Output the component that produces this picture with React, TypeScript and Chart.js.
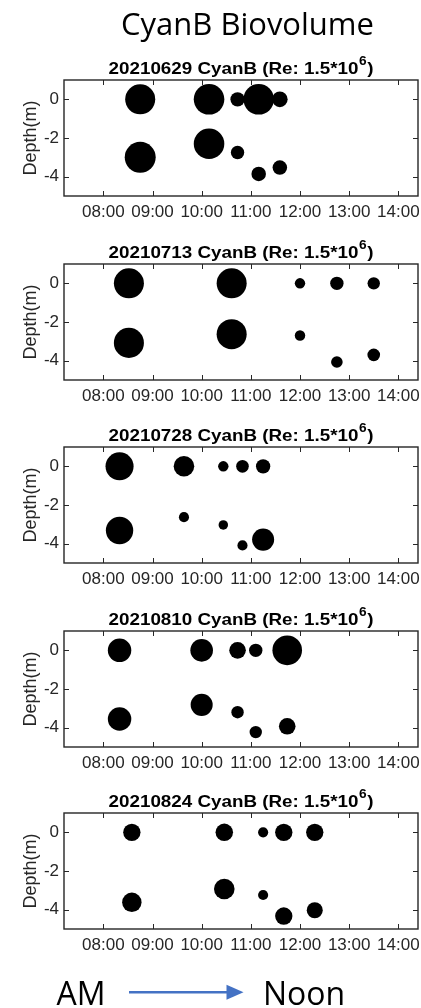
import React, { useEffect, useRef } from 'react';
import { Chart, registerables } from 'chart.js';

Chart.register(...registerables);
Chart.defaults.font.family = '"Liberation Sans", Arial, Helvetica, sans-serif';

// Axis ticks
const hourTicks = [8, 9, 10, 11, 12, 13, 14];
const hourLabels = ['08:00', '09:00', '10:00', '11:00', '12:00', '13:00', '14:00'];
const depthTicks = [-4, -2, 0];
const depthLabels = ['-4', '-2', '0'];

// Sampling time (decimal hours), depth (m) and relative CyanB biovolume per survey day
const time0629 = [8.75, 10.15, 10.73, 11.16, 11.59, 8.75, 10.15, 10.73, 11.16, 11.59];
const depth0629 = [0, 0, 0, 0, 0, -3.0, -2.3, -2.75, -3.86, -3.53];
const bio0629 = [14.1, 14.6, 3.2, 14.6, 3.8, 15.0, 14.6, 2.8, 3.3, 3.3];

const time0713 = [8.52, 10.61, 12.0, 12.75, 13.5, 8.52, 10.61, 12.0, 12.75, 13.5];
const depth0713 = [0, 0, 0, 0, 0, -3.08, -2.63, -2.7, -4.07, -3.7];
const bio0713 = [14.1, 14.1, 1.7, 2.8, 2.4, 14.1, 14.1, 1.7, 2.1, 2.5];

const time0728 = [8.33, 9.64, 10.44, 10.83, 11.25, 8.33, 9.64, 10.44, 10.83, 11.25];
const depth0728 = [0, 0, 0, 0, 0, -3.32, -2.63, -3.03, -4.09, -3.79];
const bio0728 = [12.3, 6.6, 1.7, 2.5, 3.2, 11.7, 1.6, 1.4, 1.6, 7.6];

const time0810 = [8.33, 10.0, 10.73, 11.1, 11.74, 8.33, 10.0, 10.73, 11.1, 11.74];
const depth0810 = [0, 0, 0, 0, 0, -3.55, -2.82, -3.2, -4.23, -3.93];
const bio0810 = [8.6, 8.0, 4.3, 2.8, 13.7, 8.6, 7.6, 2.4, 2.4, 4.3];

const time0824 = [8.58, 10.46, 11.25, 11.67, 12.3, 8.58, 10.46, 11.25, 11.67, 12.3];
const depth0824 = [0, 0, 0, 0, 0, -3.62, -2.93, -3.24, -4.33, -4.03];
const bio0824 = [4.7, 4.8, 1.6, 4.7, 4.7, 5.9, 6.6, 1.6, 4.7, 4.0];

const surveys = [
  { date: '20210629', time: time0629, depth: depth0629, bio: bio0629 },
  { date: '20210713', time: time0713, depth: depth0713, bio: bio0713 },
  { date: '20210728', time: time0728, depth: depth0728, bio: bio0728 },
  { date: '20210810', time: time0810, depth: depth0810, bio: bio0810 },
  { date: '20210824', time: time0824, depth: depth0824, bio: bio0824 },
];

const AXIS_COLOR = '#262626';
const PANEL_TOPS = [80, 264, 447, 631, 813];
const PLOT_H = 116;
const PAD_TOP = 30;
const X_AXIS_H = 30;

// Box frame, inward tick marks on all four sides and the bold panel heading
function framePlugin(date: string) {
  return {
    id: 'frame',
    afterDraw(chart: any) {
      const { ctx, chartArea } = chart;
      const { left, right, top, bottom } = chartArea;
      const xs = chart.scales.x;
      const ys = chart.scales.y;
      ctx.save();
      ctx.strokeStyle = AXIS_COLOR;
      ctx.lineWidth = 1.4;
      ctx.strokeRect(left, top, right - left, bottom - top);
      ctx.lineWidth = 1;
      const tl = 5;
      ctx.beginPath();
      hourTicks.forEach((h) => {
        const px = Math.round(xs.getPixelForValue(h)) + 0.5;
        ctx.moveTo(px, bottom);
        ctx.lineTo(px, bottom - tl);
        ctx.moveTo(px, top);
        ctx.lineTo(px, top + tl);
      });
      depthTicks.forEach((d) => {
        const py = Math.round(ys.getPixelForValue(d)) + 0.5;
        ctx.moveTo(left, py);
        ctx.lineTo(left + tl, py);
        ctx.moveTo(right, py);
        ctx.lineTo(right - tl, py);
      });
      ctx.stroke();

      // heading: "<date> CyanB (Re: 1.5*10^6)"
      const main = `${date} CyanB (Re: 1.5*10`;
      const sup = '6';
      const close = ')';
      const mainFont = 'bold 16.5px "Liberation Sans", Arial, sans-serif';
      const supFont = 'bold 12px "Liberation Sans", Arial, sans-serif';
      ctx.font = mainFont;
      const wMain = ctx.measureText(main).width;
      const wClose = ctx.measureText(close).width;
      ctx.font = supFont;
      const wSup = ctx.measureText(sup).width;
      const stretch = 1.14;
      const total = (wMain + wSup + wClose + 1) * stretch;
      const cx = (left + right) / 2;
      const baseY = top - 6;
      ctx.translate(cx - total / 2, baseY);
      ctx.scale(stretch, 1);
      ctx.fillStyle = '#000';
      ctx.textBaseline = 'alphabetic';
      ctx.textAlign = 'left';
      ctx.font = mainFont;
      ctx.fillText(main, 0, 0);
      ctx.font = supFont;
      ctx.fillText(sup, wMain + 0.5, -9.5);
      ctx.font = mainFont;
      ctx.fillText(close, wMain + wSup + 1, 0);
      ctx.restore();
    },
  };
}

function Panel({ survey, top }: { survey: any; top: number }) {
  const ref = useRef<HTMLCanvasElement | null>(null);
  useEffect(() => {
    if (!ref.current) return;
    const points = survey.time.map((t: number, i: number) => ({
      x: t,
      y: survey.depth[i],
      r: 4 * Math.sqrt(survey.bio[i]),
    }));
    const tickFont = { size: 17, family: '"Liberation Sans", Arial, sans-serif' };
    const chart = new Chart(ref.current, {
      type: 'bubble',
      data: {
        datasets: [
          {
            data: points,
            backgroundColor: '#000000',
            borderColor: '#000000',
            borderWidth: 0,
            clip: false,
          } as any,
        ],
      },
      options: {
        responsive: false,
        animation: false,
        events: [],
        layout: { autoPadding: false, padding: { left: 0, right: 3, top: PAD_TOP, bottom: 0 } },
        plugins: {
          legend: { display: false },
          tooltip: { enabled: false },
          title: { display: false },
        },
        scales: {
          x: {
            type: 'linear',
            min: 7.2,
            max: 14.4,
            afterBuildTicks: (s: any) => {
              s.ticks = hourTicks.map((v) => ({ value: v }));
            },
            afterFit: (s: any) => {
              s.height = X_AXIS_H;
              s.paddingLeft = 0;
              s.paddingRight = 0;
            },
            grid: { display: false, drawTicks: false },
            border: { display: false },
            ticks: {
              autoSkip: false,
              maxRotation: 0,
              padding: 6,
              color: AXIS_COLOR,
              font: tickFont,
              callback: (v: any) => hourLabels[hourTicks.indexOf(Number(v))],
            },
          },
          y: {
            type: 'linear',
            min: -5,
            max: 1,
            afterBuildTicks: (s: any) => {
              s.ticks = depthTicks.map((v) => ({ value: v }));
            },
            afterFit: (s: any) => {
              s.width = 64;
              s.paddingTop = 0;
              s.paddingBottom = 0;
            },
            grid: { display: false, drawTicks: false },
            border: { display: false },
            ticks: {
              padding: 5,
              color: AXIS_COLOR,
              font: tickFont,
              callback: (v: any) => depthLabels[depthTicks.indexOf(Number(v))],
            },
            title: {
              display: true,
              text: 'Depth(m)',
              color: AXIS_COLOR,
              font: { size: 18, family: '"Liberation Sans", Arial, sans-serif' },
              padding: { top: 20, bottom: 0 },
            },
          },
        } as any,
      },
      plugins: [framePlugin(survey.date)],
    });
    return () => chart.destroy();
  }, [survey]);

  const h = PAD_TOP + PLOT_H + X_AXIS_H;
  return (
    <canvas
      ref={ref}
      width={421}
      height={h}
      style={{ position: 'absolute', left: 0, top: top - PAD_TOP, width: 421, height: h }}
    />
  );
}

export default function App() {
  return (
    <div style={{ position: 'absolute', left: 0, top: 0, width: 421, height: 1008, background: '#fff' }}>
      {surveys.map((s, i) => (
        <Panel key={s.date} survey={s} top={PANEL_TOPS[i]} />
      ))}
      <svg
        width={421}
        height={1008}
        style={{ position: 'absolute', left: 0, top: 0, pointerEvents: 'none' }}
      >
        <text
          x={247.5}
          y={35}
          textAnchor="middle"
          fontFamily='"Open Sans", sans-serif'
          fontSize={31}
          fill="#000"
        >
          CyanB Biovolume
        </text>
        <text x={56.5} y={1005} fontFamily='"Open Sans", sans-serif' fontSize={32} fill="#000">
          AM
        </text>
        <line x1={129} y1={992.3} x2={229} y2={992.3} stroke="#4472C4" strokeWidth={2.6} />
        <polygon points="226.5,984.8 243.5,992.3 226.5,999.8" fill="#4472C4" />
        <text x={263} y={1005} fontFamily='"Open Sans", sans-serif' fontSize={32} fill="#000">
          Noon
        </text>
      </svg>
    </div>
  );
}
